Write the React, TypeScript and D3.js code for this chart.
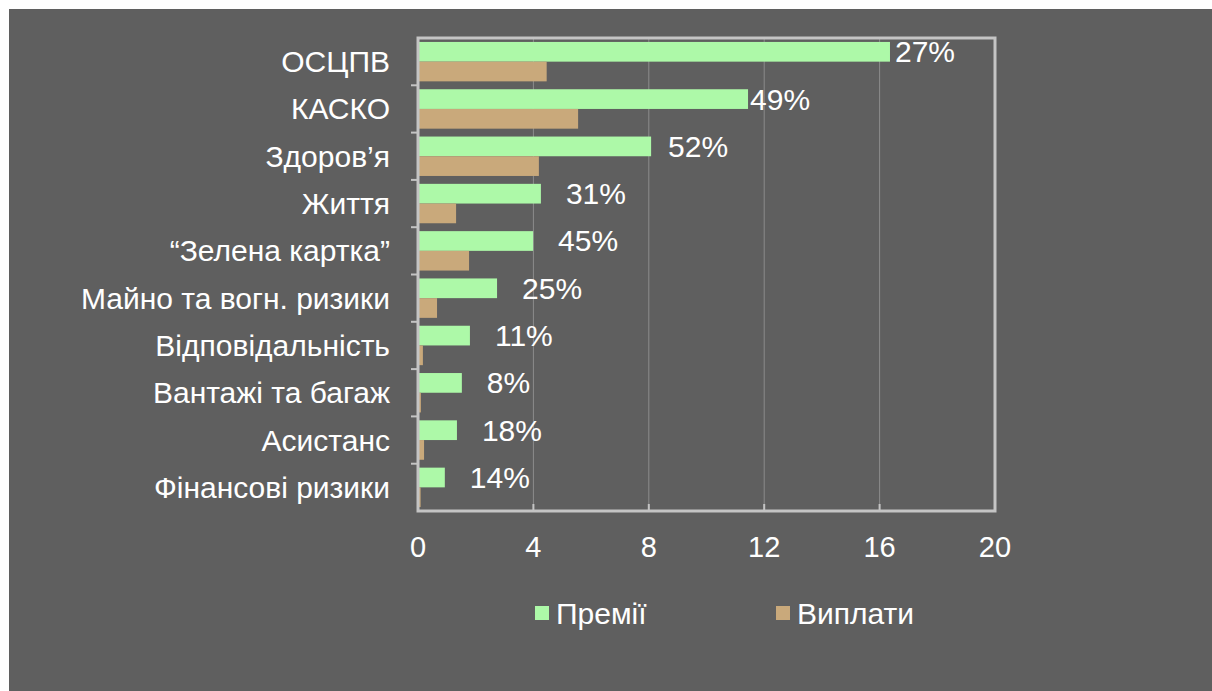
import React from "react";
import * as d3 from "d3";

const categories = [
  "ОСЦПВ",
  "КАСКО",
  "Здоров’я",
  "Життя",
  "“Зелена картка”",
  "Майно та вогн. ризики",
  "Відповідальність",
  "Вантажі та багаж",
  "Асистанс",
  "Фінансові ризики",
];
const premiums = [16.36, 11.44, 8.08, 4.26, 3.99, 2.74, 1.8, 1.52, 1.35, 0.93];
const payouts = [4.46, 5.55, 4.19, 1.32, 1.77, 0.66, 0.17, 0.1, 0.21, 0.09];
const ratioLabels = ["27%", "49%", "52%", "31%", "45%", "25%", "11%", "8%", "18%", "14%"];
const xTicks = [0, 4, 8, 12, 16, 20];
const seriesNames = ["Премії", "Виплати"];

const W = 1212;
const H = 691;
const plot = { left: 418, right: 995, top: 38, bottom: 511 };
const GREEN = "#adf9a8";
const BROWN = "#c9a97b";
const BG = "#5f5f5f";
const FRAME = "#c4c4c4";
const FONT = "'Liberation Sans', Arial, sans-serif";

export default function App() {
  const x = d3.scaleLinear().domain([0, 20]).range([plot.left, plot.right]);
  const y = d3.scaleBand<string>().domain(categories).range([plot.top, plot.bottom]).paddingInner(0).paddingOuter(0);
  const inner = d3
    .scaleBand<string>()
    .domain(["p", "v"])
    .range([0, y.bandwidth()])
    .paddingInner(0)
    .paddingOuter(0.2);
  // nudge for ratio labels (pixels after bar end)
  const labelGap = (i: number) => (i === 0 ? 5 : i === 1 ? 2 : i === 2 ? 17 : 25);

  return (
    <svg
      width={W}
      height={H}
      style={{ position: "absolute", left: 0, top: 0, background: "#fff" }}
      fontFamily={FONT}
    >
      <rect x={9} y={9} width={W - 9} height={H - 9} fill={BG} />
      {/* gridlines */}
      {xTicks.slice(1).map((t) => (
        <line key={"g" + t} x1={x(t)} x2={x(t)} y1={plot.top} y2={plot.bottom} stroke="#8c8c8c" strokeWidth={1} />
      ))}
      {/* bars */}
      {categories.map((c, i) => (
        <g key={c}>
          <rect
            x={x(0)}
            y={(y(c) as number) + (inner("p") as number)}
            width={x(premiums[i]) - x(0)}
            height={inner.bandwidth()}
            fill={GREEN}
          />
          <rect
            x={x(0)}
            y={(y(c) as number) + (inner("v") as number)}
            width={x(payouts[i]) - x(0)}
            height={inner.bandwidth()}
            fill={BROWN}
          />
          <text
            x={x(premiums[i]) + labelGap(i)}
            y={(y(c) as number) + (inner("p") as number) + inner.bandwidth() / 2}
            dy="0.35em"
            fill="#fff"
            fontSize={30}
          >
            {ratioLabels[i]}
          </text>
          <text
            x={plot.left - 28}
            y={(y(c) as number) + y.bandwidth() / 2}
            dy="0.35em"
            textAnchor="end"
            fill="#fff"
            fontSize={30}
          >
            {c}
          </text>
        </g>
      ))}
      {/* frame */}
      <rect
        x={plot.left}
        y={plot.top}
        width={plot.right - plot.left}
        height={plot.bottom - plot.top}
        fill="none"
        stroke={FRAME}
        strokeWidth={3}
      />
      {/* left ticks */}
      {categories.slice(1).map((c) => (
        <line key={"t" + c} x1={plot.left - 7} x2={plot.left} y1={y(c) as number} y2={y(c) as number} stroke={FRAME} strokeWidth={2} />
      ))}
      {/* bottom ticks + labels */}
      {xTicks.map((t) => (
        <g key={"x" + t}>
          <line x1={x(t)} x2={x(t)} y1={plot.bottom - 7} y2={plot.bottom} stroke={FRAME} strokeWidth={2} />
          <text x={x(t)} y={547} dy="0.35em" textAnchor="middle" fill="#fff" fontSize={29}>
            {t}
          </text>
        </g>
      ))}
      {/* legend */}
      <rect x={535} y={606} width={14} height={14} fill={GREEN} />
      <text x={556} y={613} dy="0.35em" fill="#fff" fontSize={30}>
        {seriesNames[0]}
      </text>
      <rect x={776} y={606} width={14} height={14} fill={BROWN} />
      <text x={797} y={613} dy="0.35em" fill="#fff" fontSize={30}>
        {seriesNames[1]}
      </text>
    </svg>
  );
}
